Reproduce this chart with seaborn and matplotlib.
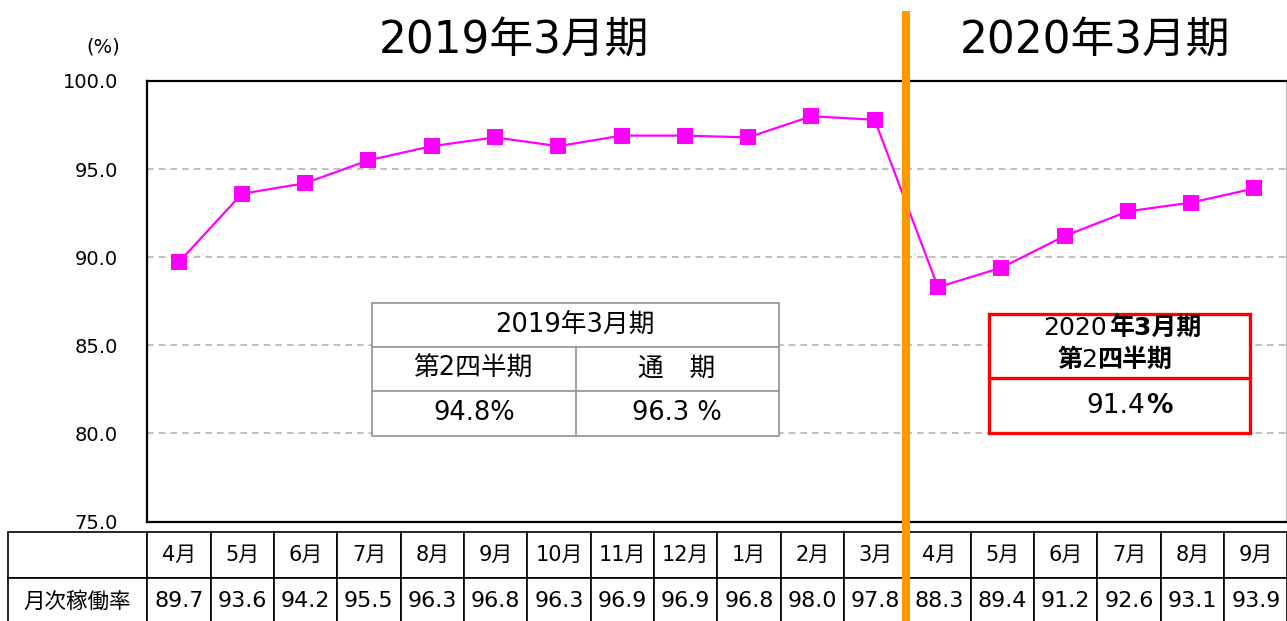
import numpy as np
import pandas as pd
import matplotlib
matplotlib.use("Agg")
import matplotlib.pyplot as plt
import matplotlib.transforms as mtransforms
from matplotlib.lines import Line2D
from matplotlib.patches import Rectangle
import seaborn as sns

# --- data ---
months = ["4月", "5月", "6月", "7月", "8月", "9月", "10月", "11月", "12月", "1月", "2月", "3月",
          "4月", "5月", "6月", "7月", "8月", "9月"]
rates = [89.7, 93.6, 94.2, 95.5, 96.3, 96.8, 96.3, 96.9, 96.9, 96.8, 98.0, 97.8,
         88.3, 89.4, 91.2, 92.6, 93.1, 93.9]
period_titles = ["2019年3月期", "2020年3月期"]
row_label = "月次稼働率"
summary_2019_title = "2019年3月期"
summary_2019_headers = ["第2四半期", "通　期"]
summary_2019_values = ["94.8%", "96.3 %"]
summary_2020_value = "91.4"

df = pd.DataFrame({"idx": np.arange(len(rates)), "rate": rates})

sns.set_style("white")
plt.rcParams["font.family"] = ["DejaVu Sans", "Noto Sans CJK JP"]
plt.rcParams["text.color"] = "black"
plt.rcParams["ytick.color"] = "black"
plt.rcParams["xtick.color"] = "black"

W, H = 1287, 621
fig = plt.figure(figsize=(W / 100, H / 100), dpi=100)


def fx(x):
    return x / W


def fy(y):
    return 1 - y / H


# main plot area
ax = fig.add_axes([fx(147), fy(521.5), (1286 - 147) / W, (521.5 - 81) / H])
sns.lineplot(data=df, x="idx", y="rate", ax=ax, color="#FF00FF", lw=1.6,
             marker="s", markersize=11.5, markeredgewidth=0, zorder=5)
ax.set_xlim(-0.5, len(rates) - 0.5)
ax.set_ylim(75, 100)
ax.set_xticks([])
ax.set_yticks(np.arange(75, 101, 5))
ax.set_yticklabels([f"{v:.1f}" for v in np.arange(75, 101, 5)])
ax.tick_params(axis="y", length=0, pad=21, labelsize=14, labelcolor="black")
ax.set_xlabel("")
ax.set_ylabel("")
ax.yaxis.grid(True, color="#b4b4b4", linestyle=(0, (4, 3)), lw=1.2)
ax.xaxis.grid(False)
for side in ["left", "top", "bottom"]:
    ax.spines[side].set_color("black")
    ax.spines[side].set_linewidth(1.6)
ax.spines["right"].set_color("#bbbbbb")
ax.spines["right"].set_linewidth(0.8)

fig.text(fx(103), fy(47), "(%)", ha="center", va="center", fontsize=14)

# period titles
fig.text(fx(514), fy(40), period_titles[0], ha="center", va="center", fontsize=31.5)
fig.text(fx(1095), fy(40), period_titles[1], ha="center", va="center", fontsize=31.5)

# bottom table
cell_text = [[""] + months, [row_label] + [f"{v:.1f}" for v in rates]]
col_w = [139] + [1139 / len(rates)] * len(rates)
x_unit = 1139
y_unit = 440.5
tab = ax.table(cellText=cell_text, colWidths=col_w, cellLoc="center",
               bbox=[(8 - 147) / x_unit, -(624.5 - 521.5) / y_unit,
                     (1287.5 - 8) / x_unit, (624.5 - 531.5) / y_unit])
tab.auto_set_font_size(False)
for (r, c), cell in tab.get_celld().items():
    cell.set_linewidth(1.2)
    cell.set_edgecolor("black")
    cell.get_text().set_color("black")
    cell.get_text().set_fontsize(15 if r == 0 else 16)
    if r == 1 and c == 0:
        cell.get_text().set_fontsize(15.5)

# divider between fiscal years
trans = mtransforms.blended_transform_factory(ax.transData, fig.transFigure)
fig.add_artist(Line2D([11.5, 11.5], [0, fy(11)], transform=trans,
                      color="#FF9900", lw=5.8, solid_capstyle="butt", zorder=10))

# 2019 summary box
gray = "#999999"
fig.add_artist(Rectangle((fx(372), fy(436)), (779 - 372) / W, (436 - 303) / H,
                         transform=fig.transFigure, facecolor="white",
                         edgecolor=gray, lw=1.3, zorder=3))
for yy in [347, 391]:
    fig.add_artist(Line2D([fx(372), fx(779)], [fy(yy), fy(yy)],
                          transform=fig.transFigure, color=gray, lw=1.3, zorder=4))
fig.add_artist(Line2D([fx(576), fx(576)], [fy(347), fy(436)],
                      transform=fig.transFigure, color=gray, lw=1.3, zorder=4))
fs = 18.5
fig.text(fx(575), fy(325), summary_2019_title, ha="center", va="center", fontsize=fs, zorder=5)
fig.text(fx(473), fy(369), summary_2019_headers[0], ha="center", va="center", fontsize=fs, zorder=5)
fig.text(fx(677), fy(369), summary_2019_headers[1], ha="center", va="center", fontsize=fs, zorder=5)
fig.text(fx(474), fy(413), summary_2019_values[0], ha="center", va="center", fontsize=fs, zorder=5)
fig.text(fx(677), fy(413), summary_2019_values[1], ha="center", va="center", fontsize=fs, zorder=5)

# 2020 summary box
red = "#FF0000"
fig.add_artist(Rectangle((fx(989), fy(433)), (1250 - 989) / W, (433 - 314) / H,
                         transform=fig.transFigure, facecolor="white",
                         edgecolor=red, lw=2.4, zorder=3))
fig.add_artist(Line2D([fx(989), fx(1250)], [fy(378), fy(378)],
                      transform=fig.transFigure, color=red, lw=2.4, zorder=4))
fs2 = 18
fig.text(fx(1107), fy(328), "2020", ha="right", va="center", fontsize=fs2, zorder=5)
fig.text(fx(1109), fy(328), "年3月期", ha="left", va="center", fontsize=fs2,
         fontweight="bold", zorder=5)
fig.text(fx(1083), fy(360), "第", ha="right", va="center", fontsize=fs2,
         fontweight="bold", zorder=5)
fig.text(fx(1089.5), fy(360), "2", ha="center", va="center", fontsize=fs2, zorder=5)
fig.text(fx(1097), fy(360), "四半期", ha="left", va="center", fontsize=fs2,
         fontweight="bold", zorder=5)
fig.text(fx(1145), fy(406), summary_2020_value, ha="right", va="center", fontsize=19, zorder=5)
fig.text(fx(1146), fy(406), "%", ha="left", va="center", fontsize=19,
         fontweight="bold", zorder=5)

fig.savefig("out.png", dpi=100)
